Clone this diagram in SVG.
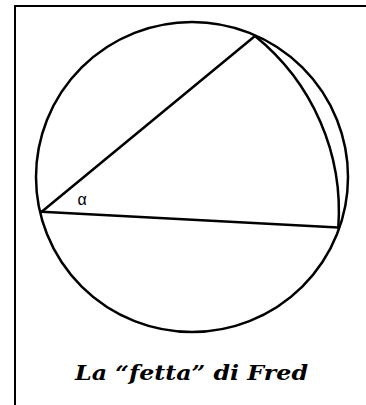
<svg xmlns="http://www.w3.org/2000/svg" width="366" height="405" viewBox="0 0 366 405">
<style>
.s{fill:none;stroke:#000;stroke-width:2.5;stroke-linecap:round;stroke-linejoin:round}
.f{fill:none;stroke:#000;stroke-width:2}
</style>
<rect width="366" height="405" fill="#fff"/>
<path class="f" d="M15,405 V6 H366"/>
<g id="circle"><ellipse class="s" cx="192" cy="177" rx="156" ry="155"/></g>
<g id="connectors">
<path class="s" d="M41.7,211.7 L255,36"/>
<path class="s" d="M41.7,211.7 L338.3,227.5"/>
<path class="s" d="M255,36 A225,225 0 0 1 338.3,227.5"/>
</g>
<g id="alpha"><text x="82" y="205" font-family="Liberation Sans, sans-serif" font-size="16" text-anchor="middle">α</text></g>
<g id="title"><text x="191.5" y="380" font-family="DejaVu Serif, serif" font-size="21" font-weight="bold" font-style="italic" text-anchor="middle" textLength="233" lengthAdjust="spacingAndGlyphs">La “fetta” di Fred</text></g>
</svg>
